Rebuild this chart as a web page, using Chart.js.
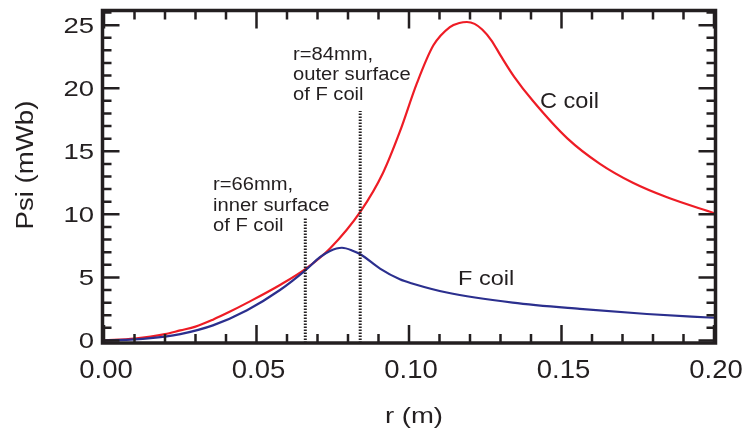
<!DOCTYPE html>
<html>
<head>
<meta charset="utf-8">
<script src="https://cdn.jsdelivr.net/npm/chart.js@4/dist/chart.umd.min.js"></script>
<style>
  html, body { margin: 0; padding: 0; background: #ffffff; }
  #wrap { width: 744px; height: 434px; }
</style>
</head>
<body>
<div id="wrap"><canvas id="c" width="744" height="434"></canvas></div>
<script>
// Flux function Psi (mWb) versus radius r (m)
const rC   = [0, 0.010, 0.020, 0.025, 0.030, 0.0357, 0.041, 0.0469, 0.0577, 0.0662, 0.0741, 0.0843, 0.0915, 0.097, 0.1026, 0.108, 0.1134, 0.1165, 0.119, 0.1215, 0.124, 0.127, 0.130, 0.1345, 0.1406, 0.152, 0.1626, 0.1734, 0.1846, 0.200];
const psiC = [0, 0.15, 0.50, 0.80, 1.10, 1.65, 2.25, 2.98, 4.40, 5.70, 7.30, 10.30, 13.30, 16.55, 20.40, 23.40, 24.85, 25.17, 25.25, 25.10, 24.65, 23.80, 22.60, 20.90, 19.00, 16.00, 14.00, 12.50, 11.35, 10.10];

const rF   = [0, 0.010, 0.020, 0.025, 0.0357, 0.0469, 0.0577, 0.0662, 0.0708, 0.0741, 0.078, 0.0817, 0.0843, 0.0905, 0.097, 0.1013, 0.1124, 0.134, 0.156, 0.178, 0.200];
const psiF = [0, 0.08, 0.30, 0.50, 1.20, 2.40, 4.00, 5.60, 6.60, 7.10, 7.35, 7.10, 6.80, 5.70, 4.85, 4.50, 3.80, 3.00, 2.50, 2.10, 1.80];

// Coil surface markers (r in m) and the height their dotted lines reach
const markerR   = [0.066, 0.084];
const markerTop = [9.7, 18.2];

// Axis ranges and tick labels
const xMin = 0, xMax = 0.20, yMin = -0.2, yMax = 26.2;
const xMajorTicks = [0, 0.05, 0.10, 0.15, 0.20];
const xTickLabels = ['0.00', '0.05', '0.10', '0.15', '0.20'];
const yMajorTicks = [0, 5, 10, 15, 20, 25];
const yTickLabels = ['0', '5', '10', '15', '20', '25'];

const INK = '#231f20';
const FONT = '"Liberation Sans", Arial, sans-serif';

function pts(xs, ys) { return xs.map((x, i) => ({ x: x, y: ys[i] })); }

// text drawn slightly widened horizontally
function wideText(ctx, txt, x, y, size, sx, align, rot) {
  ctx.save();
  ctx.translate(x, y);
  if (rot) ctx.rotate(rot);
  ctx.scale(sx, 1);
  ctx.font = size + 'px ' + FONT;
  ctx.fillStyle = INK;
  ctx.textAlign = align;
  ctx.textBaseline = 'alphabetic';
  ctx.fillText(txt, 0, 0);
  ctx.restore();
}

const framePlugin = {
  id: 'frame',
  afterDatasetsDraw(chart) {
    const ctx = chart.ctx;
    const xs = chart.scales.x, ys = chart.scales.y;
    const a = chart.chartArea;
    const L = a.left - 1.5, R = a.right + 1.5, T = a.top + 0.5, B = a.bottom;

    ctx.save();
    ctx.strokeStyle = INK;
    ctx.lineWidth = 3.5;
    ctx.lineCap = 'butt';
    ctx.strokeRect(L, T, R - L, B - T);

    // inward tick marks on all four sides
    ctx.lineWidth = 2.5;
    ctx.beginPath();
    for (let i = 0; i <= 20; i++) {
      const v = i / 100;
      const px = xs.getPixelForValue(v);
      const len = (i % 5 === 0) ? 18 : 9;
      ctx.moveTo(px, B); ctx.lineTo(px, B - len);
      ctx.moveTo(px, T); ctx.lineTo(px, T + len);
    }
    for (let v = 0; v <= 26; v++) {
      const py = ys.getPixelForValue(v);
      const len = (v % 5 === 0) ? 17 : 9;
      ctx.moveTo(L, py); ctx.lineTo(L + len, py);
      ctx.moveTo(R, py); ctx.lineTo(R - len, py);
    }
    ctx.stroke();
    ctx.restore();

    // tick labels
    xMajorTicks.forEach((v, i) => {
      wideText(ctx, xTickLabels[i], xs.getPixelForValue(v) + 2, 378, 25, 1.1, 'center');
    });
    yMajorTicks.forEach((v, i) => {
      wideText(ctx, yTickLabels[i], 94, ys.getPixelForValue(v) + 7.5, 22, 1.25, 'right');
    });

    // axis titles
    wideText(ctx, 'r (m)', 414, 423, 22, 1.25, 'center');
    wideText(ctx, 'Psi (mWb)', 33, 165, 23, 1.2, 'center', -Math.PI / 2);

    // annotations
    wideText(ctx, 'r=84mm,', 293, 60, 18, 1.12, 'left');
    wideText(ctx, 'outer surface', 293, 80, 18, 1.12, 'left');
    wideText(ctx, 'of F coil', 293, 100, 18, 1.12, 'left');
    wideText(ctx, 'r=66mm,', 213, 190, 18, 1.12, 'left');
    wideText(ctx, 'inner surface', 213, 210.5, 18, 1.12, 'left');
    wideText(ctx, 'of F coil', 213, 231, 18, 1.12, 'left');
    wideText(ctx, 'C coil', 540, 108, 22, 1.07, 'left');
    wideText(ctx, 'F coil', 458, 285, 21, 1.12, 'left');
  }
};

const markerSets = markerR.map((r, i) => ({
  label: 'marker' + i,
  data: pts([r, r], [yMin, markerTop[i]]),
  borderColor: INK,
  borderWidth: 3,
  borderDash: [1.6, 1.4],
  pointRadius: 0,
  tension: 0
}));

new Chart(document.getElementById('c'), {
  type: 'line',
  data: {
    datasets: [
      ...markerSets,
      {
        label: 'F coil',
        data: pts(rF, psiF),
        borderColor: '#2b2f8e',
        borderWidth: 2.2,
        pointRadius: 0,
        cubicInterpolationMode: 'monotone'
      },
      {
        label: 'C coil',
        data: pts(rC, psiC),
        borderColor: '#ee1c25',
        borderWidth: 2.2,
        pointRadius: 0,
        cubicInterpolationMode: 'monotone'
      }
    ]
  },
  options: {
    responsive: false,
    animation: false,
    devicePixelRatio: 1,
    layout: { padding: { top: 10, right: 30, left: 0, bottom: 0 } },
    plugins: { legend: { display: false }, tooltip: { enabled: false } },
    scales: {
      x: {
        type: 'linear', min: xMin, max: xMax,
        grid: { display: false }, border: { display: false },
        ticks: { display: false },
        afterFit(s) { s.height = 91; }
      },
      y: {
        type: 'linear', min: yMin, max: yMax,
        grid: { display: false }, border: { display: false },
        ticks: { display: false },
        afterFit(s) { s.width = 104; }
      }
    }
  },
  plugins: [framePlugin]
});
</script>
</body>
</html>
